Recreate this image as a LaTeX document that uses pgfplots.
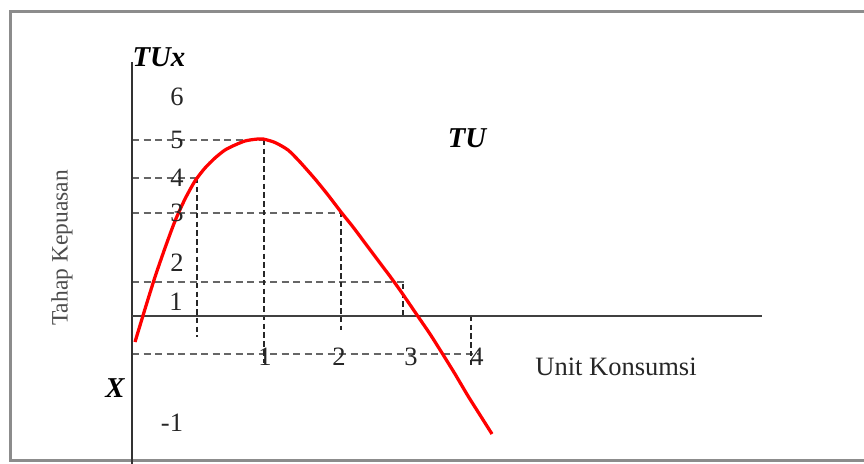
\documentclass[border=0pt]{standalone}
\usepackage{pgfplots}
\pgfplotsset{compat=1.18}
\usepackage{fontspec}
\setmainfont{Liberation Serif}

% picture is laid out in reference pixels (y downward), 1px = 0.4pt
\pgfplotstableread{
px  py
135 342
145 309
155 277
165 248
175 221
185 199
195 181
205 168
215 158
225 150
235 145
245 141
255 139.3
263 139
275 142.5
288 150
300 162
315 179
328 195
341 212
353 227
365 243
380 263
392 279
402 293
417 315
430 334
442 353
455 374
468 396
480 415
492 434
}\tucurve

\begin{document}
\begin{tikzpicture}[
    hdash/.style={draw=black!60, line width=0.65pt, dash pattern=on 2.8pt off 1.8pt},
    vdash/.style={draw=black!85, line width=0.6pt, dash pattern=on 2.2pt off 1.3pt},
    lbl/.style={font=\fontsize{10.6}{12}\selectfont, text=black!85, inner sep=0pt},
    bi/.style={inner sep=0pt, font=\fontsize{11.5}{13}\selectfont\bfseries\itshape},
  ]
\begin{axis}[
    width=345.6pt, height=185.6pt, scale only axis,
    xmin=0, xmax=864, ymin=0, ymax=464, y dir=reverse,
    hide axis,
  ]
  \path (axis cs:0,0) rectangle (axis cs:864,464);
  % outer frame (right side runs off the picture)
  \draw[black!45, line width=1.2pt] (axis cs:864,12) -- (axis cs:10,12) -- (axis cs:10,460) -- (axis cs:864,460);

  % guide lines
  \draw[hdash] (axis cs:132,140) -- (axis cs:263,140);
  \draw[hdash] (axis cs:132,178) -- (axis cs:198,178);
  \draw[hdash] (axis cs:132,213) -- (axis cs:341,213);
  \draw[hdash] (axis cs:132,282) -- (axis cs:405,282);
  \draw[hdash] (axis cs:132,354) -- (axis cs:480,354);
  \draw[vdash] (axis cs:197,178) -- (axis cs:197,337);
  \draw[vdash] (axis cs:264,140) -- (axis cs:264,363);
  \draw[vdash] (axis cs:341,212) -- (axis cs:341,330);
  \draw[vdash] (axis cs:403,284) -- (axis cs:403,316);
  \draw[vdash] (axis cs:471,316) -- (axis cs:471,366);

  % axes
  \draw[black!80, line width=0.8pt] (axis cs:132,62) -- (axis cs:132,464);
  \draw[black!75, line width=0.8pt] (axis cs:132,316) -- (axis cs:762,316);

  \addplot[red, line width=1.3pt, smooth, tension=0.4] table[x=px, y=py] {\tucurve};

  % labels
  \node[lbl] at (axis cs:177,97) {6};
  \node[lbl] at (axis cs:177,140) {5};
  \node[lbl] at (axis cs:177,178) {4};
  \node[lbl] at (axis cs:177,213) {3};
  \node[lbl] at (axis cs:177,263) {2};
  \node[lbl] at (axis cs:176,302) {1};
  \node[lbl] at (axis cs:172,423) {-1};
  \node[lbl] at (axis cs:265,357) {1};
  \node[lbl] at (axis cs:339,357) {2};
  \node[lbl] at (axis cs:411,357) {3};
  \node[lbl] at (axis cs:477,357) {4};
  \node[bi] at (axis cs:159,57) {TUx};
  \node[bi] at (axis cs:467,138) {TU};
  \node[bi] at (axis cs:115,388) {X};
  \node[lbl] at (axis cs:616,367) {Unit Konsumsi};
  \node[inner sep=0pt, rotate=90, text=black!70, font=\fontsize{9.4}{11}\selectfont] at (axis cs:62,248) {Tahap Kepuasan};
\end{axis}
\end{tikzpicture}
\end{document}
